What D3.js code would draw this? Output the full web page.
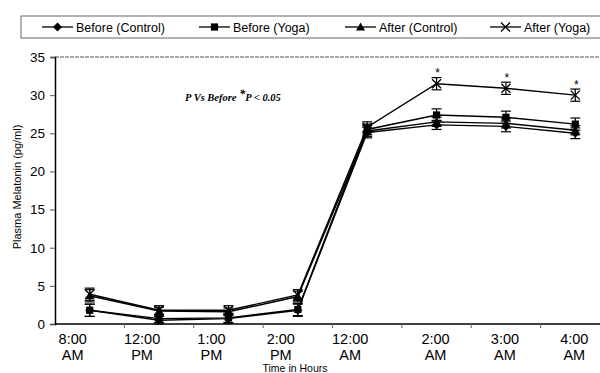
<!DOCTYPE html>
<html>
<head>
<meta charset="utf-8">
<script src="https://cdn.jsdelivr.net/npm/d3@7"></script>
<style>
  html, body { margin: 0; padding: 0; background: #fff; }
  svg { display: block; font-family: "Liberation Sans", Arial, sans-serif; }
</style>
</head>
<body>
<svg id="chart" width="600" height="373"></svg>
<script>
// ---- data ----
const categories = ["8:00 AM", "12:00 PM", "1:00 PM", "2:00 PM", "12:00 AM", "2:00 AM", "3:00 AM", "4:00 AM"];
const seriesNames = ["Before (Control)", "Before (Yoga)", "After (Control)", "After (Yoga)"];
const beforeControl = [1.8, 0.5, 0.7, 1.8, 25.1, 26.1, 25.9, 25.0];
const beforeYoga    = [1.8, 0.7, 0.8, 1.9, 25.5, 27.4, 27.1, 26.2];
const afterControl  = [3.7, 1.7, 1.6, 3.6, 25.3, 26.5, 26.3, 25.4];
const afterYoga     = [3.9, 1.8, 1.8, 3.8, 25.8, 31.5, 30.9, 30.0];
const errBeforeControl = [0.8, 0.5, 0.6, 0.8, 0.7, 0.6, 0.7, 0.7];
const errBeforeYoga    = [0.8, 0.5, 0.6, 0.8, 0.7, 0.8, 0.8, 0.8];
const errAfterControl  = [0.8, 0.5, 0.5, 0.7, 0.7, 0.6, 0.6, 0.6];
const errAfterYoga     = [0.8, 0.6, 0.6, 0.7, 0.7, 0.8, 0.8, 0.8];
const significant = [false, false, false, false, false, true, true, true];
const yTicks = [0, 5, 10, 15, 20, 25, 30, 35];

(function () {
// ---- layout ----
const svg = d3.select("#chart");
const mLeft = 55, mRight = 610, mTop = 57, mBottom = 324;

const x = d3.scaleBand().domain(categories).range([mLeft, mRight]).padding(0);
const y = d3.scaleLinear().domain([0, 35]).range([mBottom, mTop]);
const cx = c => x(c) + x.bandwidth() / 2;

// top border (dotted grey)
svg.append("line").attr("x1", mLeft).attr("x2", 600).attr("y1", mTop).attr("y2", mTop)
  .attr("stroke", "#555").attr("stroke-width", 1).attr("stroke-dasharray", "4,1");

// y axis
const yAxis = svg.append("g").attr("transform", `translate(${mLeft},0)`)
  .call(d3.axisLeft(y).tickValues(yTicks).tickSize(5).tickPadding(5));
yAxis.select(".domain").attr("stroke", "#000").attr("stroke-width", 1.5);
yAxis.selectAll(".tick line").attr("stroke", "#555");
yAxis.selectAll("text").attr("font-size", 13.5).attr("fill", "#000")
  .attr("font-family", "Liberation Sans, Arial, sans-serif");

// x axis line
svg.append("line").attr("x1", mLeft).attr("x2", 600).attr("y1", mBottom).attr("y2", mBottom)
  .attr("stroke", "#000").attr("stroke-width", 1.5);
// x ticks at band boundaries
svg.append("g").selectAll("line").data(categories.slice(1)).join("line")
  .attr("x1", d => x(d)).attr("x2", d => x(d))
  .attr("y1", mBottom).attr("y2", mBottom + 4)
  .attr("stroke", "#666").attr("stroke-width", 1);
// x tick labels (two lines, separate text elements)
const lx0 = (d) => { const i = categories.indexOf(d); return cx(d) + (i < 5 ? -17 : -1); };
const xg = svg.append("g").attr("font-size", 14.5).attr("text-anchor", "middle");
xg.selectAll("text.l1").data(categories).join("text").attr("class", "l1")
  .attr("x", lx0).attr("y", 344).text(d => d.split(" ")[0]);
xg.selectAll("text.l2").data(categories).join("text").attr("class", "l2")
  .attr("x", lx0).attr("y", 359.5).text(d => d.split(" ")[1]);

// axis titles
svg.append("text").attr("x", 295).attr("y", 372).attr("text-anchor", "middle")
  .attr("font-size", 10.5).text("Time in Hours");
svg.append("text").attr("transform", "translate(21,187) rotate(-90)")
  .attr("text-anchor", "middle").attr("font-size", 11).text("Plasma Melatonin (pg/ml)");

// annotation
const ann = svg.append("text").attr("x", 185).attr("y", 101)
  .attr("font-family", "Liberation Serif, Times New Roman, serif")
  .attr("font-weight", "bold").attr("font-style", "italic").attr("font-size", 10.5);
ann.append("tspan").text("P Vs Before ");
ann.append("tspan").attr("dy", -3).attr("font-size", 12).text("*");
ann.append("tspan").attr("dy", 3).text("P < 0.05");

// ---- series ----
const series = [
  { name: seriesNames[0], values: beforeControl, err: errBeforeControl, marker: "diamond" },
  { name: seriesNames[1], values: beforeYoga, err: errBeforeYoga, marker: "square" },
  { name: seriesNames[2], values: afterControl, err: errAfterControl, marker: "triangle" },
  { name: seriesNames[3], values: afterYoga, err: errAfterYoga, marker: "cross" }
];

function drawMarker(g, type, px, py, s) {
  if (type === "diamond") {
    g.append("path").attr("d", `M${px},${py - s}L${px + s},${py}L${px},${py + s}L${px - s},${py}Z`).attr("fill", "#000");
  } else if (type === "square") {
    g.append("rect").attr("x", px - s * 0.8).attr("y", py - s * 0.8).attr("width", s * 1.6).attr("height", s * 1.6).attr("fill", "#000");
  } else if (type === "triangle") {
    g.append("path").attr("d", `M${px},${py - s}L${px + s},${py + s * 0.75}L${px - s},${py + s * 0.75}Z`).attr("fill", "#000");
  } else {
    g.append("path").attr("d", `M${px - s},${py - s}L${px + s},${py + s}M${px - s},${py + s}L${px + s},${py - s}`)
      .attr("stroke", "#000").attr("stroke-width", 1.3).attr("fill", "none");
  }
}

const line = d3.line().x((d, i) => cx(categories[i])).y(d => y(d));
const plot = svg.append("g");
series.forEach(s => {
  plot.append("path").datum(s.values).attr("d", line)
    .attr("fill", "none").attr("stroke", "#000").attr("stroke-width", 1.4);
});
series.forEach(s => {
  const g = plot.append("g");
  s.values.forEach((v, i) => {
    const px = cx(categories[i]);
    const e = s.err[i];
    g.append("line").attr("x1", px).attr("x2", px).attr("y1", y(v + e)).attr("y2", y(v - e))
      .attr("stroke", "#000").attr("stroke-width", 1.2);
    [v + e, v - e].forEach(t => {
      g.append("line").attr("x1", px - 5).attr("x2", px + 5).attr("y1", y(t)).attr("y2", y(t))
        .attr("stroke", "#000").attr("stroke-width", 1.2);
    });
    drawMarker(g, s.marker, px, y(v), 4.5);
  });
});
// asterisks
svg.append("g").selectAll("text").data(categories.filter((c, i) => significant[i])).join("text")
  .attr("x", d => cx(d) + 1)
  .attr("y", d => { const i = categories.indexOf(d); return y(afterYoga[i] + errAfterYoga[i]) - 0.5; })
  .attr("text-anchor", "middle").attr("font-size", 12).text("*");

// ---- legend ----
const lg = svg.append("g");
lg.append("rect").attr("x", 21).attr("y", 16).attr("width", 600).attr("height", 22)
  .attr("fill", "none").attr("stroke", "#666").attr("stroke-width", 1);
const legendX = [42, 199, 345, 490];
series.forEach((s, i) => {
  const lx = legendX[i];
  lg.append("line").attr("x1", lx).attr("x2", lx + 31).attr("y1", 27).attr("y2", 27)
    .attr("stroke", "#000").attr("stroke-width", 1.3);
  const mg = lg.append("g");
  drawMarker(mg, s.marker, lx + 15.5, 27, 4.5);
  lg.append("text").attr("x", lx + 34).attr("y", 31.5).attr("font-size", 12.5).text(s.name);
});
})();
</script>
</body>
</html>
